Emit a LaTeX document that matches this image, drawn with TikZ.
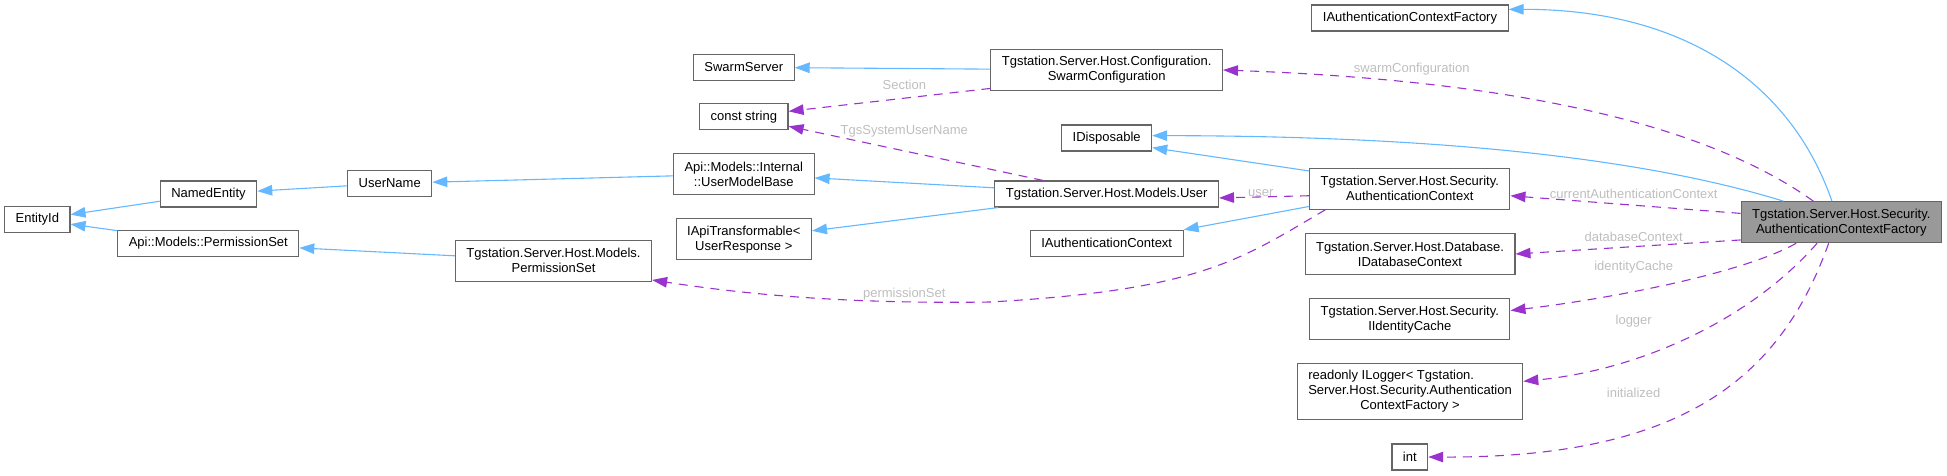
\documentclass[tikz,border=0pt]{standalone}
\usepackage{fontspec}
\setmainfont{Liberation Sans}
\usetikzlibrary{arrows.meta}
\definecolor{edgeblue}{RGB}{99,184,255}
\definecolor{edgeviolet}{RGB}{154,50,205}
\definecolor{boxline}{RGB}{102,102,102}
\definecolor{curfill}{RGB}{153,153,153}
\definecolor{lblgrey}{RGB}{190,190,190}
\tikzset{
  cls/.style={rectangle, draw=boxline, line width=1.1pt, fill=white, minimum height=26pt,
              inner xsep=11pt, inner ysep=2pt, align=center, font=\fontsize{13}{15}\selectfont},
  cls2/.style={cls, minimum height=41pt},
  cls3/.style={cls, minimum height=56pt},
  cur/.style={cls2, fill=curfill},
  inh/.style={-{Triangle[length=15pt,width=10.5pt]}, draw=edgeblue, line width=1.1pt},
  mem/.style={-{Triangle[length=15pt,width=10.5pt]}, draw=edgeviolet, line width=1.1pt,
              dash pattern=on 9pt off 7pt},
  lbl/.style={font=\fontsize{13}{15}\selectfont, text=lblgrey, inner sep=0pt},
}

\begin{document}
\begin{tikzpicture}[x=1pt,y=-1pt]
\useasboundingbox (0,0) rectangle (1947,475);

%% =====================================================================
%% base classes, left side
%% =====================================================================
\node[cls] (eid)   at (37.3,219.5)  {EntityId};
\node[cls] (nent)  at (208.5,194)   {NamedEntity};
\node[cls] (apset) at (208.3,243.3) {Api::Models::PermissionSet};
\node[cls] (uname) at (389.7,183.3) {UserName};
\node[cls2] (pset) at (553.5,260.8) {Tgstation.Server.Host.Models.\\PermissionSet};

\node[cls]  (swsrv) at (743.8,67.3)  {SwarmServer};
\node[cls]  (cstr)  at (743.8,116.8) {const string};
\node[cls2] (umb)   at (743.8,174)   {Api::Models::Internal\\::UserModelBase};
\node[cls2] (iapi)  at (743.8,239.3) {IApiTransformable<\\UserResponse >};

\node[cls2] (swcfg) at (1106.7,70)    {Tgstation.Server.Host.Configuration.\\SwarmConfiguration};
\node[cls]  (idisp) at (1106.7,138)   {IDisposable};
\node[cls]  (user)  at (1106.7,194)   {Tgstation.Server.Host.Models.User};
\node[cls]  (iac)   at (1106.7,243.3) {IAuthenticationContext};

%% =====================================================================
%% direct members / bases of the factory
%% =====================================================================
\node[cls]  (iacf) at (1410,18)     {IAuthenticationContextFactory};
\node[cls2] (actx) at (1409.8,188.7) {Tgstation.Server.Host.Security.\\AuthenticationContext};
\node[cls2] (idb)  at (1410,254)    {Tgstation.Server.Host.Database.\\IDatabaseContext};
\node[cls2] (idc)  at (1409.8,319.3) {Tgstation.Server.Host.Security.\\IIdentityCache};
\node[cls3] (ilog) at (1410,391.2)
  {{\makebox[0pt][l]{readonly ILogger< Tgstation.}\phantom{Server.Host.Security.Authentication}}\\
   Server.Host.Security.Authentication\\ContextFactory >};
\node[cls]  (intv) at (1409.8,457)  {int};

\node[cur] (fac) at (1841.3,222.2) {Tgstation.Server.Host.Security.\\AuthenticationContextFactory};

%% inheritance (solid blue)
\draw[inh] (nent) -- (eid);
\draw[inh] (apset) -- (eid);
\draw[inh] (uname) -- (nent);
\draw[inh] (umb) -- (uname);
\draw[inh] (pset) -- (apset);
\draw[inh] (swcfg) -- (swsrv);
\draw[inh] (user) -- (umb);
\draw[inh] (user) -- (iapi);
\draw[inh] (actx.170) -- (idisp.-12.5);
\draw[inh] (actx.190) -- (iac.north east);
\draw[inh] (fac.160) .. controls (1650,160) and (1450,136) .. (idisp.3);
\draw[inh] (fac.114) .. controls (1790,80) and (1680,9) .. (iacf.5);

%% usage (dashed violet) with member names
\draw[mem] (swcfg.189) -- (cstr.7);
\draw[mem] (user) -- (cstr);
\draw[mem] (actx.184.7) -- (user.-2.6);
\draw[mem] (actx.194) .. controls (1240,260) and (1200,290) .. (990,302)
                      .. controls (850,304) and (750,295) .. (pset.-11);
\draw[mem] (fac.143) .. controls (1700,120) and (1500,80) .. (swcfg.east);
\draw[mem] (fac.175.3) -- (actx.-4.9);
\draw[mem] (fac.190) -- (idb.east);
\draw[mem] (fac.-155.2) .. controls (1740,275) and (1600,300) .. (idc.5.7);
\draw[mem] (fac.-139.8) .. controls (1750,320) and (1640,370) .. (ilog.5.8);
\draw[mem] (fac.-121.6) .. controls (1780,380) and (1680,458) .. (intv.east);

\node[lbl] (lsec)  at (904.3,84.7)   {Section};
\node[lbl] (ltgs)  at (904.3,131.3)  {TgsSystemUserName};
\node[lbl] (lpset) at (904.3,294)    {permissionSet};
\node[lbl] (luser) at (1260.7,192.7) {user};
\node[lbl] (lswc)  at (1411.7,68.7)  {swarmConfiguration};
\node[lbl] (lcur)  at (1633.7,193.7) {currentAuthenticationContext};
\node[lbl] (ldb)   at (1633.7,236.7) {databaseContext};
\node[lbl] (lidc)  at (1633.7,267)   {identityCache};
\node[lbl] (llog)  at (1633.7,321)   {logger};
\node[lbl] (linit) at (1633.7,392.7) {initialized};

\end{tikzpicture}
\end{document}
